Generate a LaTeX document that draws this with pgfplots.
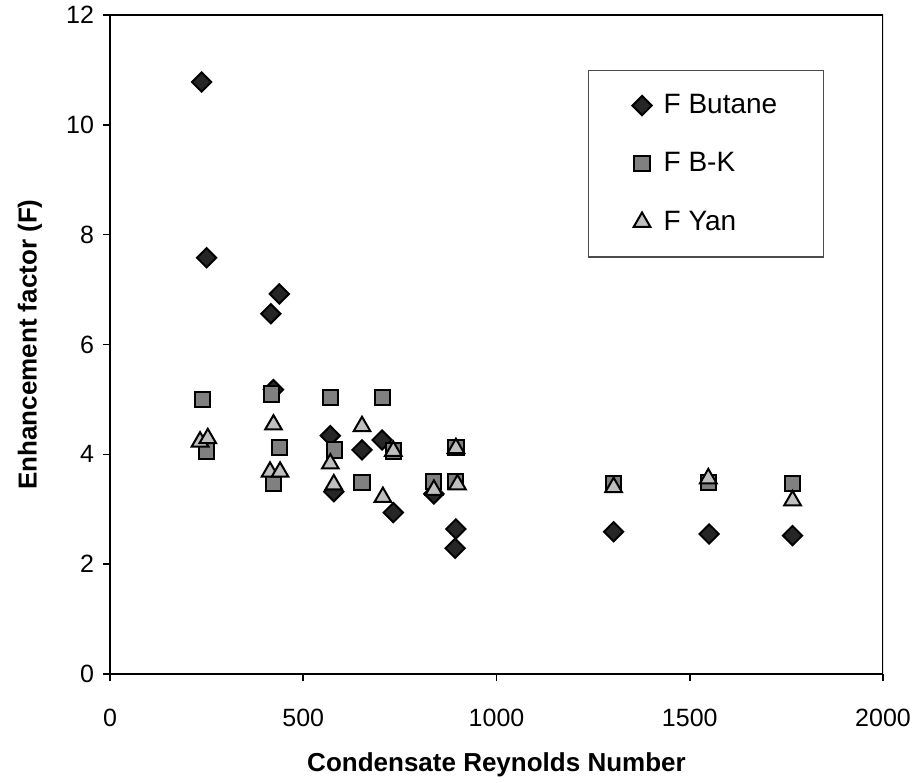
\documentclass[border=0pt]{standalone}
\usepackage{pgfplots}
\pgfplotsset{compat=1.18}
\usepackage{fontspec}
\setmainfont{Liberation Sans}

\pgfplotstableread{
x y
237 10.78
250 7.58
416 6.56
438 6.92
423 5.18
570 4.34
579 3.32
652 4.08
704 4.26
733 2.94
838 3.28
893 2.29
895 2.64
1303 2.59
1550 2.55
1766 2.52
}\butane

\pgfplotstableread{
x y
239 5.00
250 4.06
417 5.10
439 4.12
423 3.47
570 5.03
581 4.08
652 3.49
706 5.03
733 4.06
838 3.50
893 3.51
895 4.12
1303 3.47
1548 3.49
1766 3.47
}\bk

\pgfplotstableread{
x y
233 4.23
253 4.29
423 4.54
414 3.68
440 3.68
570 3.83
579 3.45
652 4.51
706 3.22
733 4.06
838 3.35
895 4.11
899 3.45
1303 3.40
1548 3.56
1766 3.16
}\yan

\begin{document}
\begin{tikzpicture}
\begin{axis}[
    scale only axis,
    width=386.5pt,
    height=329.5pt,
    xmin=0, xmax=2000,
    ymin=0, ymax=12,
    xtick={0,500,...,2000},
    ytick={0,2,...,12},
    tick align=outside,
    major tick length=3.5pt,
    axis line style={line width=1.4pt},
    tick style={line width=0.8pt, black},
    axis x line*=bottom,
    axis y line*=left,
    /pgf/number format/assume math mode=true,
    /pgf/number format/set thousands separator={},
    tick label style={font=\fontsize{12.5}{14}\selectfont},
    xticklabel style={yshift=-10.5pt},
    yticklabel style={xshift=-1pt},
    xlabel={\bfseries Condensate Reynolds Number},
    ylabel={\bfseries Enhancement factor (F)},
    label style={font=\fontsize{13}{15}\selectfont},
    x label style={at={(axis description cs:0.5,-0.137)},anchor=center},
    y label style={at={(axis description cs:-0.1035,0.5)},anchor=center},
    legend style={at={(0.618,0.917)}, anchor=north west,
        draw=black!70, line width=0.7pt,
        font=\fontsize{14}{16}\selectfont,
        row sep=14pt, inner xsep=22pt, inner ysep=10pt},
    legend cell align=left,
    every axis plot/.append style={only marks, line width=1pt},
]
\addplot[mark=square*, mark size=3.4pt, mark options={rotate=45, draw=black, fill=black!85}] table {\butane};
\addplot[mark=square*, mark size=3.8pt, mark options={draw=black, fill=black!50}] table {\bk};
\addplot[mark=triangle*, mark size=4.8pt, mark options={draw=black, fill=black!25}] table {\yan};
\legend{\hspace{4pt}\makebox[56pt][l]{F Butane}, \hspace{4pt}F B-K, \hspace{4pt}F Yan}
% frame lines on top and right
\draw[line width=1.4pt] (rel axis cs:0,1) -- (rel axis cs:1,1) -- (rel axis cs:1,0);
\end{axis}
\pgfresetboundingbox
\path[use as bounding box] ([shift={(-55pt,-54pt)}]current axis.south west) rectangle ([shift={(17.5pt,7.5pt)}]current axis.north east);
\end{tikzpicture}
\end{document}
